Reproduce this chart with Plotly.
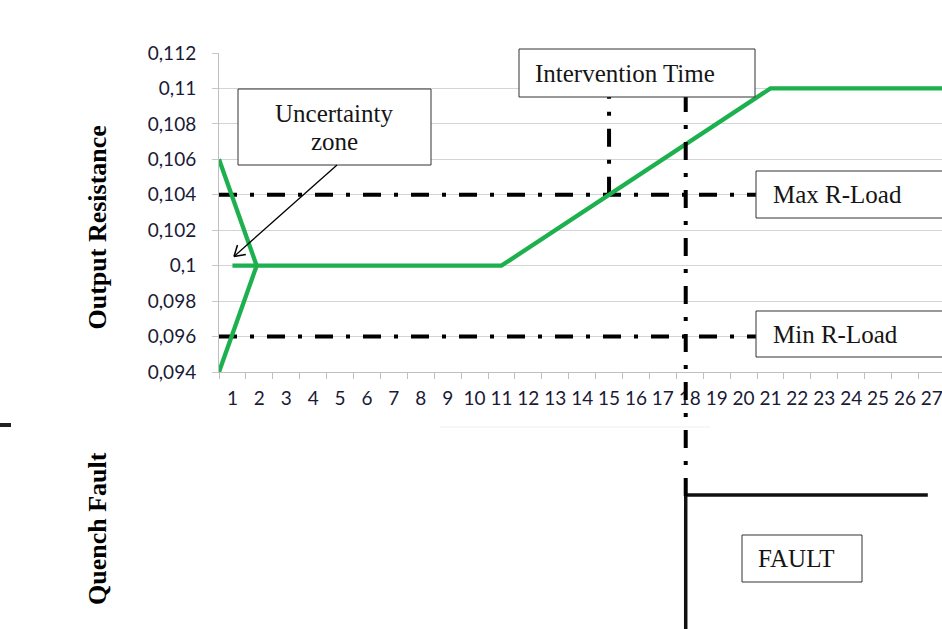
import math
import plotly.graph_objects as go

# ---------------- data ----------------
categories = list(range(1, 28))
category_labels = [str(c) for c in categories]
minor_boundaries = [c - 0.5 for c in categories] + [27.5]

y_tick_values = [0.094, 0.096, 0.098, 0.100, 0.102, 0.104, 0.106, 0.108, 0.110, 0.112]
y_tick_labels = ["0,094", "0,096", "0,098", "0,1", "0,102", "0,104", "0,106", "0,108", "0,11", "0,112"]

# uncertainty zone (two converging branches)
upper_branch_x = [0.5, 1.9]
upper_branch_y = [0.106, 0.100]
lower_branch_x = [0.5, 1.9]
lower_branch_y = [0.094, 0.100]

# output resistance
resistance_x = [1, 11, 21, 27.5]
resistance_y = [0.100, 0.100, 0.110, 0.110]

# load limits
max_rload = 0.104
min_rload = 0.096
rload_x = [0.5, 20.46]

# intervention / fault
intervention_time = 15
intervention_y = [0.104, 0.1096]
fault_time = 17.85
fault_x = [17.85, 17.85, 26.85]
fault_y = [0, 1, 1]

# ---------------- geometry helpers (layout only) ----------------
W, H = 942, 629
L, T = 219, 53
PW, PH = W - L, H - T


def px(X):
    return (X - L) / PW


def py(Y):
    return (H - Y) / PH


GREEN = "#1db04e"
DASH = "18px,13px,4px,13px"
SERIF = "Liberation Serif"
TICKFONT = dict(family="Lato", size=19, color="#1a1a36")

fig = go.Figure()

# load limit lines
for val in (max_rload, min_rload):
    fig.add_trace(go.Scatter(x=rload_x, y=[val, val], mode="lines",
                             line=dict(color="black", width=4, dash=DASH),
                             hoverinfo="skip", showlegend=False))

# intervention vertical
fig.add_trace(go.Scatter(x=[intervention_time, intervention_time], y=intervention_y, mode="lines",
                         line=dict(color="black", width=4, dash=DASH),
                         hoverinfo="skip", showlegend=False))

# green resistance lines
for xs, ys in ((upper_branch_x, upper_branch_y), (lower_branch_x, lower_branch_y),
               (resistance_x, resistance_y)):
    fig.add_trace(go.Scatter(x=xs, y=ys, mode="lines",
                             line=dict(color=GREEN, width=4.3),
                             hoverinfo="skip", showlegend=False))

# fault step (bottom panel)
fig.add_trace(go.Scatter(x=fault_x, y=fault_y, mode="lines", yaxis="y2",
                         line=dict(color="#111111", width=3.5),
                         hoverinfo="skip", showlegend=False))

shapes = [
    # fault time vertical dash-dot spanning both panels
    dict(type="line", xref="x", yref="paper", x0=fault_time, x1=fault_time,
         y0=py(496), y1=py(97), line=dict(color="black", width=4, dash=DASH), layer="above"),
    # faint artefact line
    dict(type="line", xref="paper", yref="paper", x0=px(440), x1=px(710), y0=py(427), y1=py(427),
         line=dict(color="#eeeeee", width=1)),
    # small dash on far left
    dict(type="line", xref="paper", yref="paper", x0=px(0), x1=px(11), y0=py(425), y1=py(425),
         line=dict(color="#222222", width=4)),
]

boxes = [
    (238, 431, 89, 165),   # uncertainty
    (519, 755, 49, 97),    # intervention time
    (756, 960, 171, 218),  # max r-load
    (756, 960, 311, 357),  # min r-load
    (742, 862, 535, 582),  # fault
]
for x0, x1, y0, y1 in boxes:
    shapes.append(dict(type="rect", xref="paper", yref="paper",
                       x0=px(x0), x1=px(x1), y0=py(y1), y1=py(y0),
                       line=dict(color="#333333", width=1), fillcolor="white", layer="above"))

# arrow (open head drawn as two short strokes)
tip = (234, 256.5)
tail = (337, 165)
shapes.append(dict(type="line", xref="paper", yref="paper",
                   x0=px(tail[0]), y0=py(tail[1]), x1=px(tip[0]), y1=py(tip[1]),
                   line=dict(color="black", width=1.3), layer="above"))
ang = math.atan2(tail[1] - tip[1], tail[0] - tip[0])
for d in (-0.55, 0.55):
    ex = tip[0] + 12 * math.cos(ang + d)
    ey = tip[1] + 12 * math.sin(ang + d)
    shapes.append(dict(type="line", xref="paper", yref="paper",
                       x0=px(tip[0]), y0=py(tip[1]), x1=px(ex), y1=py(ey),
                       line=dict(color="black", width=1.5), layer="above"))

box_font = dict(family=SERIF, size=25, color="#151515")
annotations = [
    dict(text="Uncertainty", x=px(334.5), y=py(113.3), xanchor="center", yanchor="middle"),
    dict(text="zone", x=px(334.5), y=py(141.6), xanchor="center", yanchor="middle"),
    dict(text="Intervention Time", x=px(533), y=py(73.3), xanchor="left", yanchor="middle"),
    dict(text="Max R-Load", x=px(771), y=py(194.3), xanchor="left", yanchor="middle"),
    dict(text="Min R-Load", x=px(771), y=py(334.3), xanchor="left", yanchor="middle"),
    dict(text="FAULT", x=px(756), y=py(558.3), xanchor="left", yanchor="middle"),
]
for a in annotations:
    a.update(xref="paper", yref="paper", showarrow=False, font=box_font)

title_font = dict(family=SERIF, size=26, color="black", weight="bold")
annotations += [
    dict(text="Output Resistance", x=px(97), y=py(227.5), xref="paper", yref="paper",
         textangle=-90, showarrow=False, font=title_font, xanchor="center", yanchor="middle"),
    dict(text="Quench Fault", x=px(97), y=py(528), xref="paper", yref="paper",
         textangle=-90, showarrow=False, font=title_font, xanchor="center", yanchor="middle"),
]

fig.update_layout(
    width=W, height=H,
    margin=dict(l=L, r=0, t=T, b=0, pad=0),
    paper_bgcolor="white", plot_bgcolor="white",
    showlegend=False,
    xaxis=dict(
        range=[0.5, 0.5 + PW / 26.9], domain=[0, 1], anchor="y",
        tickmode="array", tickvals=categories, ticktext=category_labels,
        ticks="", tickfont=TICKFONT, ticklabelstandoff=9, ticklabeloverflow="allow",
        showgrid=False, zeroline=False, showline=True, linecolor="#bfbfbf", linewidth=1,
        minor=dict(tickmode="array", tickvals=minor_boundaries, ticks="outside",
                   ticklen=6, tickcolor="#bfbfbf", tickwidth=1, showgrid=False),
        automargin=False, fixedrange=True,
    ),
    yaxis=dict(
        range=[0.094, 0.112], domain=[py(372), 1], anchor="x",
        tickmode="array", tickvals=y_tick_values, ticktext=y_tick_labels,
        ticks="outside", ticklen=6, tickcolor="#c8c8c8", tickfont=TICKFONT, ticklabelstandoff=12,
        showgrid=True, gridcolor="#d4d4d4", gridwidth=1,
        zeroline=False, showline=True, linecolor="#bfbfbf", linewidth=1,
        automargin=False, fixedrange=True,
    ),
    yaxis2=dict(
        range=[0, 172.8 / 134], domain=[0, 0.3], anchor="x", visible=False,
        fixedrange=True,
    ),
    shapes=shapes,
    annotations=annotations,
)

fig.write_html(
    "out.html",
    config={"displayModeBar": False},
    post_script="document.body.style.margin='0';document.body.style.overflow='hidden';",
)
